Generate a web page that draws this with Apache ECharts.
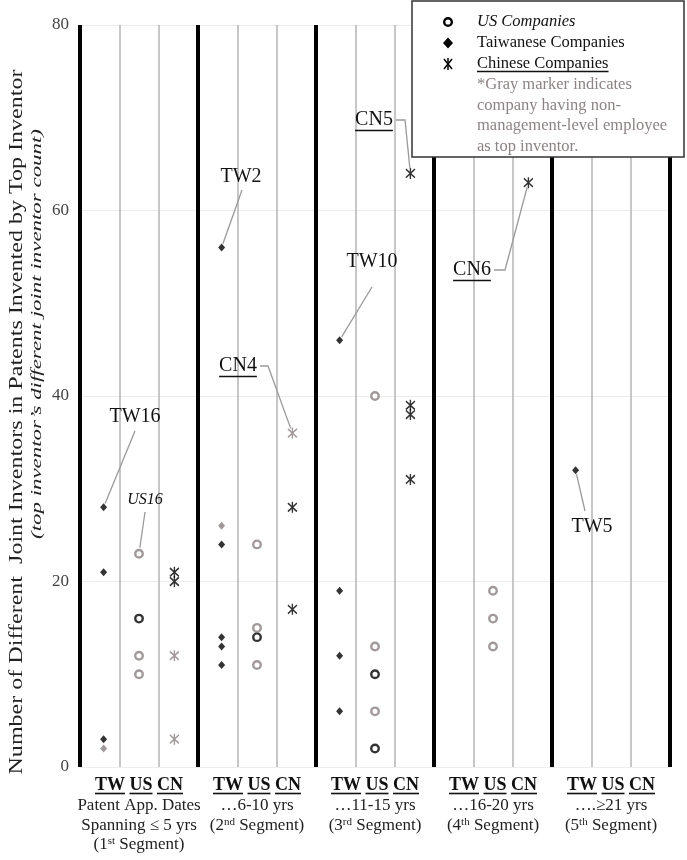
<!DOCTYPE html>
<html><head><meta charset="utf-8">
<script src="https://cdn.jsdelivr.net/npm/echarts@6/dist/echarts.min.js"></script>
<style>html,body{margin:0;padding:0;background:#fff}#c{width:687px;height:860px}</style>
</head><body><div id="c"></div>
<script>
// ---------- DATA ----------
const segmentNames = ['1st','2nd','3rd','4th','5th'];
const groups = ['TW','US','CN'];
// one inner array per segment
const twBlack = [[28,21,3],[56,24,14,13,11],[46,19,12,6],[],[32]];
const twGray  = [[2],[26],[],[],[]];
const usBlack = [[16],[14],[10,2],[],[]];
const usGray  = [[23,12,10],[24,15,11],[40,13,6],[19,16,13],[]];
const cnBlack = [[21,20],[28,17],[64,39,38,31],[63],[]];
const cnGray  = [[12,3],[36],[],[],[]];
const yTicks = [0,20,40,60,80];
const segLines = [
  ['Patent App. Dates','Spanning \u2264 5 yrs','(1{sup|st} Segment)'],
  ['\u20266-10 yrs','(2{sup|nd} Segment)'],
  ['\u202611-15 yrs','(3{sup|rd} Segment)'],
  ['\u202616-20 yrs','(4{sup|th} Segment)'],
  ['\u2026.\u226521 yrs','(5{sup|th} Segment)']
];
// annotations: label text, which point it points at
const annotations = [
  {text:'TW16', g:0, seg:0, v:28},
  {text:'US16', g:1, seg:0, v:23},
  {text:'TW2',  g:0, seg:1, v:56},
  {text:'CN4',  g:2, seg:1, v:36},
  {text:'TW10', g:0, seg:2, v:46},
  {text:'CN5',  g:2, seg:2, v:64},
  {text:'CN6',  g:2, seg:3, v:63},
  {text:'TW5',  g:0, seg:4, v:32}
];
// ---------- LAYOUT / STYLE ----------
const annLayout = {
  TW16:{x:135,y:417,kind:'tw',lead:[[135,431]],gap:4},
  US16:{x:145,y:500,kind:'us',lead:[[145,512]],gap:6},
  TW2: {x:241,y:177,kind:'tw',lead:[[242,190]],gap:4},
  CN4: {x:238,y:366,kind:'cn',lead:[[260,366],[268,366]],gap:5},
  TW10:{x:372,y:262,kind:'tw',lead:[[372,287]],gap:4},
  CN5: {x:374,y:120,kind:'cn',lead:[[396,120],[405,120]],gap:5},
  CN6: {x:472,y:270,kind:'cn',lead:[[494,270],[505,270]],gap:5},
  TW5: {x:592,y:527,kind:'tw',lead:[[585,511]],gap:4}
};
const FONT = '"Liberation Serif","Times New Roman",serif';
const FONTNAME = 'Liberation Serif';
const GRAY = '#8a8080';
const colOffset = [0.1, 0, -0.1];
function colX(seg, g){ return seg*3 + g + 0.5 + colOffset[g]; }
function pts(arr, g){ const out=[]; arr.forEach((vals,s)=>vals.forEach(v=>out.push([colX(s,g), v]))); return out; }

const starPath = 'path://M0 0L10 10M10 0L0 10M5 -1.5L5 11.5';
function circleS(data,color){return {type:'scatter',data,symbol:'circle',symbolSize:7.5,z:3,
  itemStyle:{color:'#fff',borderColor:color,borderWidth:2.4},emphasis:{disabled:true}};}
function diamondS(data,color){return {type:'scatter',data,symbol:'diamond',symbolSize:[7,8],z:3,
  itemStyle:{color:color},emphasis:{disabled:true}};}
function starS(data,color){return {type:'scatter',data,symbol:starPath,symbolSize:[9,11],z:3,
  itemStyle:{color:'none',borderColor:color,borderWidth:1.5},emphasis:{disabled:true}};}

const chart = echarts.init(document.getElementById('c'), null, {renderer:'canvas'});
chart.setOption({
  animation:false,
  grid:{left:80,right:17,top:25,bottom:93},
  xAxis:[
    {type:'value',min:0,max:15,interval:1,axisLine:{show:false},axisTick:{show:false},axisLabel:{show:false},
      splitLine:{show:true,lineStyle:{color:'#b5b5b5',width:1.5}}},
    {type:'value',min:0,max:15,interval:3,z:1,axisLine:{show:false},axisTick:{show:false},axisLabel:{show:false},
      splitLine:{show:true,lineStyle:{color:'#000',width:4}}}
  ],
  yAxis:{type:'value',min:yTicks[0],max:yTicks[yTicks.length-1],interval:yTicks[1]-yTicks[0],
    axisLine:{show:false},axisTick:{show:false},
    axisLabel:{fontFamily:FONT,fontSize:17,color:'#444',margin:11},
    splitLine:{lineStyle:{color:'#ececec',width:1}}},
  series:[
    diamondS(pts(twBlack,0),'#000'), diamondS(pts(twGray,0),GRAY),
    circleS(pts(usBlack,1),'#000'), circleS(pts(usGray,1),GRAY),
    starS(pts(cnBlack,2),'#000'), starS(pts(cnGray,2),GRAY)
  ]
});

const ctx = document.createElement('canvas').getContext('2d');
function tw(text, font){ ctx.font = font; return ctx.measureText(text).width; }
function px(x,y){ return chart.convertToPixel({xAxisIndex:0,yAxisIndex:0},[x,y]); }

const G = [];
// y-axis titles
{
  const f1 = '18px "' + FONTNAME + '"';
  const t1 = 'Number of Different  Joint Inventors in Patents Invented by Top Inventor';
  const s1 = 705 / tw(t1, f1);
  G.push({type:'text',x:17,y:422,rotation:Math.PI/2,scaleX:s1,z:100,
    style:{text:t1,font:f1,fill:'#222',align:'center',verticalAlign:'middle',textAlign:'center',textVerticalAlign:'middle'}});
  const f2 = 'italic 14px "' + FONTNAME + '"';
  const t2 = '(top inventor\u2019s different joint inventor count)';
  const s2 = 410 / tw(t2, f2);
  G.push({type:'text',x:37,y:334,rotation:Math.PI/2,scaleX:s2,z:100,
    style:{text:t2,font:f2,fill:'#222',align:'center',verticalAlign:'middle',textAlign:'center',textVerticalAlign:'middle'}});
}
// bottom labels
segmentNames.forEach((nm, s)=>{
  const cx = px(s*3+1.5, 0)[0];
  const fb = 'bold 18px "' + FONTNAME + '"';
  const full = groups.join(' ');
  const W = tw(full, fb);
  const x0 = cx - W/2;
  G.push({type:'text',x:cx,y:785,z:100,style:{text:full,font:fb,fill:'#111',align:'center',verticalAlign:'middle',textAlign:'center',textVerticalAlign:'middle'}});
  let off = 0;
  groups.forEach((g,i)=>{
    const w = tw(g, fb);
    G.push({type:'line',z:100,shape:{x1:x0+off,y1:793.5,x2:x0+off+w,y2:793.5},style:{stroke:'#111',lineWidth:1.6}});
    off += w + tw(' ', fb);
  });
  const ys = [806,826,845];
  segLines[s].forEach((ln,i)=>{
    G.push({type:'text',x:cx,y:ys[i],z:100,style:{text:ln,font:'17px "'+FONTNAME+'"',fill:'#222',
      align:'center',verticalAlign:'middle',textAlign:'center',textVerticalAlign:'middle',lineHeight:18,
      rich:{sup:{fontSize:11,fontFamily:FONTNAME,verticalAlign:'top',lineHeight:18,fill:'#222'}}}});
  });
});
// annotations
annotations.forEach(a=>{
  const L = annLayout[a.text];
  const tgt = px(colX(a.seg,a.g), a.v);
  let font, fill='#111';
  if (L.kind==='us') font = 'italic 16px "'+FONTNAME+'"'; else font = '20px "'+FONTNAME+'"';
  G.push({type:'text',x:L.x,y:L.y,z:100,style:{text:a.text,font:font,fill:fill,align:'center',verticalAlign:'middle',textAlign:'center',textVerticalAlign:'middle'}});
  if (L.kind==='cn'){
    const w = tw(a.text, font);
    G.push({type:'line',z:100,shape:{x1:L.x-w/2,y1:L.y+10.5,x2:L.x+w/2,y2:L.y+10.5},style:{stroke:'#111',lineWidth:1.5}});
  }
  const prev = L.lead[L.lead.length-1];
  const dx = prev[0]-tgt[0], dy = prev[1]-tgt[1], d = Math.hypot(dx,dy);
  const end = [tgt[0]+dx/d*L.gap, tgt[1]+dy/d*L.gap];
  G.push({type:'polyline',z:99,shape:{points:L.lead.concat([end])},style:{stroke:'#9a9a9a',lineWidth:1.3,fill:null}});
});
// legend box
{
  G.push({type:'rect',z:100,shape:{x:412,y:1,width:272,height:156},style:{fill:'#fff',stroke:'#333',lineWidth:1.5}});
  const sx = 448, tx = 477, rows=[22,43,64];
  G.push({type:'circle',z:101,shape:{cx:sx,cy:rows[0],r:3.8},style:{fill:'#fff',stroke:'#000',lineWidth:2.4}});
  G.push({type:'polygon',z:101,shape:{points:[[sx,rows[1]-5.5],[sx+5,rows[1]],[sx,rows[1]+5.5],[sx-5,rows[1]]]},style:{fill:'#000'}});
  const r3 = rows[2];
  [[[sx-4,r3-5],[sx+4,r3+5]],[[sx+4,r3-5],[sx-4,r3+5]],[[sx,r3-6],[sx,r3+6]]].forEach(p=>{
    G.push({type:'line',z:101,shape:{x1:p[0][0],y1:p[0][1],x2:p[1][0],y2:p[1][1]},style:{stroke:'#000',lineWidth:1.5}});
  });
  const lf = '16.5px "'+FONTNAME+'"';
  const lfi = 'italic 16.5px "'+FONTNAME+'"';
  const items = [['US Companies',lfi],['Taiwanese Companies',lf],['Chinese Companies',lf]];
  items.forEach((it,i)=>{
    G.push({type:'text',z:101,x:tx,y:rows[i],style:{text:it[0],font:it[1],fill:'#111',align:'left',verticalAlign:'middle',textAlign:'left',textVerticalAlign:'middle'}});
  });
  const cw = tw('Chinese Companies', lf);
  G.push({type:'line',z:101,shape:{x1:tx,y1:rows[2]+7.5,x2:tx+cw,y2:rows[2]+7.5},style:{stroke:'#111',lineWidth:1.5}});
  const notes = ['*Gray marker indicates','company having non-','management-level employee','as top inventor.'];
  notes.forEach((n,i)=>{
    G.push({type:'text',z:101,x:tx,y:85+20.5*i,style:{text:n,font:lf,fill:'#8c8484',align:'left',verticalAlign:'middle',textAlign:'left',textVerticalAlign:'middle'}});
  });
}
chart.setOption({graphic:G});
</script>
</body></html>
